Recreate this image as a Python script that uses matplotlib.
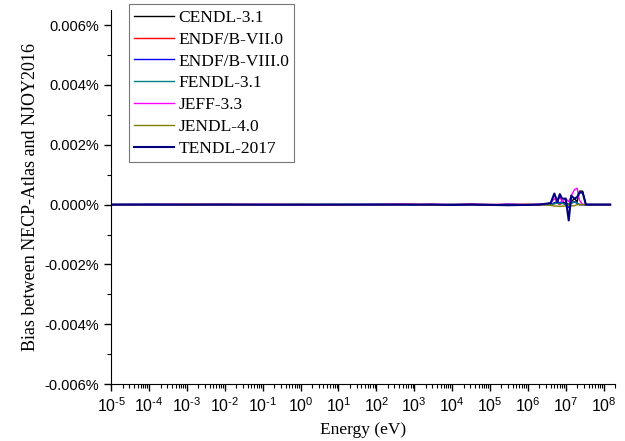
"""
Bias between NECP-Atlas and NJOY2016 for several nuclear data libraries
"""

import math
import matplotlib
matplotlib.use('Agg')
import matplotlib.pyplot as plt
from matplotlib.ticker import FuncFormatter, MultipleLocator, LogLocator

# Energy grid (eV), shared by all libraries
energy = [1e-5, 1e-4, 1e-3, 1e-2, 1e-1, 1e0, 1e1, 1e2, 5e2, 1e3, 3e3, 1e4, 3e4,
          1e5, 3e5, 1e6, 2e6, 4e6, 5e6, 6e6, 7e6, 8e6, 1e7, 1.2e7, 1.4e7,
          1.7e7, 2e7, 2.3e7, 2.8e7, 3.4e7, 5e7, 1e8, 1.5e8]

# Bias in percent
cendl = [0, 0, 0, 0.00001, 0, 0, -0.00001, 0, 0.00001, 0, -0.00001, 0, 0.00001,
         0, -0.00001, 0, 0, 0.00002, 0.00005, 0.0001, 0.00005, 0.0001, 0.00005,
         0, 0.0001, 0.0002, 0.0001, 0.00045, 0.00045, 0, 0, 0, 0]
endf7 = [0, 0, 0.00001, 0, 0, -0.00001, 0, 0, 0, 0.00001, 0, 0, -0.00001,
         0, 0, 0.00001, 0, 0, 0.00003, 0.00005, 0, 0.00005, 0, -0.00003, 0.00005,
         0.0001, 0.00005, 0, 0, 0, 0, 0, 0]
endf8 = [0, 0.00001, 0, 0, -0.00001, 0, 0, 0.00001, 0, -0.00001, 0.00001, -0.00002, 0.00001,
         -0.00002, 0.00002, -0.00001, 0.00001, 0, 0.00005, 0.0001, 0.00005, 0.0001, 0,
         -0.0001, 0.00005, 0.0001, 0.00005, 0, 0, 0, 0, 0, 0]
fendl = [0, 0, 0, 0, 0, 0, 0.00001, 0, 0, 0, 0, 0.00001, 0,
         0, 0, 0, 0, 0, 0.00003, 0.00005, 0.00003, 0.00005, 0, 0, 0.00005,
         0.00008, 0.00005, 0, 0, 0, 0, 0, 0]
jeff = [0, 0, 0, 0, 0.00001, 0, 0, 0, 0.00002, 0, 0.00001, 0, 0.00002,
        0, 0.00001, 0, 0, 0.00005, 0.0002, 0.0001, 0.00025, 0.0001, 0.0002,
        0.0001, 0.0003, 0.0005, 0.00055, 0.00015, 0, 0, 0, 0, 0]
jendl = [0, 0, 0, 0, 0, 0.00001, 0, 0, 0, 0, -0.00001, 0, 0,
         0, 0, 0, 0, -0.00002, -0.00005, -0.00005, -0.00006, -0.00005, -0.00005,
         -0.00003, -0.00004, -0.00004, 0, 0, 0, 0, 0, 0, 0]
tendl = [0, 0, 0, 0, 0, 0, 0, 0, 0, 0, 0, -0.00001, 0,
         -0.00001, -0.00002, -0.00001, 0, 0.00005, 0.00037, 0.0001, 0.00035, 0.0002, 0.0002,
         -0.00053, 0.0003, 0.0002, 0.00025, 0.0004, 0.0004, 0, 0, 0, 0]

labels = ['CENDL-3.1', 'ENDF/B-VII.0', 'ENDF/B-VIII.0', 'FENDL-3.1',
          'JEFF-3.3', 'JENDL-4.0', 'TENDL-2017']
colors = ['#000000', '#ff0000', '#0000ff', '#008080', '#ff00ff', '#808000', '#000080']
series = [cendl, endf7, endf8, fendl, jeff, jendl, tendl]

plt.rcParams['mathtext.fontset'] = 'custom'
plt.rcParams['mathtext.rm'] = 'Liberation Sans'
plt.rcParams['mathtext.it'] = 'Liberation Sans'
plt.rcParams['axes.unicode_minus'] = False


def fmt_pow(v, pos):
    e = round(math.log10(v))
    if e < 0:
        return r'$10^{\text{-}%d}$' % (-e)
    return r'$10^{%d}$' % e


fig = plt.figure(figsize=(6.25, 4.41), dpi=100)
ax = fig.add_axes([0.178, 0.129, 0.806, 0.848])

for vals, lab, col in zip(series, labels, colors):
    ax.plot(energy, vals, color=col, lw=1.5 if lab == 'TENDL-2017' else 1.0, label=lab)

ax.set_xscale('log')
ax.set_xlim(1e-5, 2e8)
ax.set_ylim(-0.006, 0.0065)

ax.yaxis.set_major_locator(MultipleLocator(0.002))
ax.yaxis.set_minor_locator(MultipleLocator(0.001))
ax.yaxis.set_major_formatter(FuncFormatter(lambda v, p: f'{v:.3f}%'))
ax.xaxis.set_major_locator(LogLocator(base=10, numticks=20))
ax.xaxis.set_minor_locator(LogLocator(base=10, subs=range(2, 10), numticks=200))
ax.xaxis.set_major_formatter(FuncFormatter(fmt_pow))

for s in ['top', 'right']:
    ax.spines[s].set_visible(False)
ax.tick_params(which='major', direction='out', length=5, width=1,
               labelsize=10.5, labelfontfamily='Liberation Sans')
ax.tick_params(axis='x', which='major', labelsize=11.5, pad=4)
ax.tick_params(which='minor', direction='out', length=3, width=0.8)

ax.set_xlabel('Energy (eV)', family='Liberation Serif', fontsize=12.5, labelpad=5)
ax.set_ylabel('Bias between NECP-Atlas and NJOY2016', family='Liberation Serif', fontsize=13)

leg = ax.legend(loc='upper left', bbox_to_anchor=(0.206, 0.99), bbox_transform=fig.transFigure,
                prop={'family': 'Liberation Serif', 'size': 12.5}, frameon=True, fancybox=False,
                edgecolor='#555555', handlelength=2.3, labelspacing=0.33, borderpad=0.3,
                handletextpad=0.25, borderaxespad=0)
leg.get_frame().set_linewidth(0.8)

plt.savefig('out.png', dpi=100)
plt.close()
